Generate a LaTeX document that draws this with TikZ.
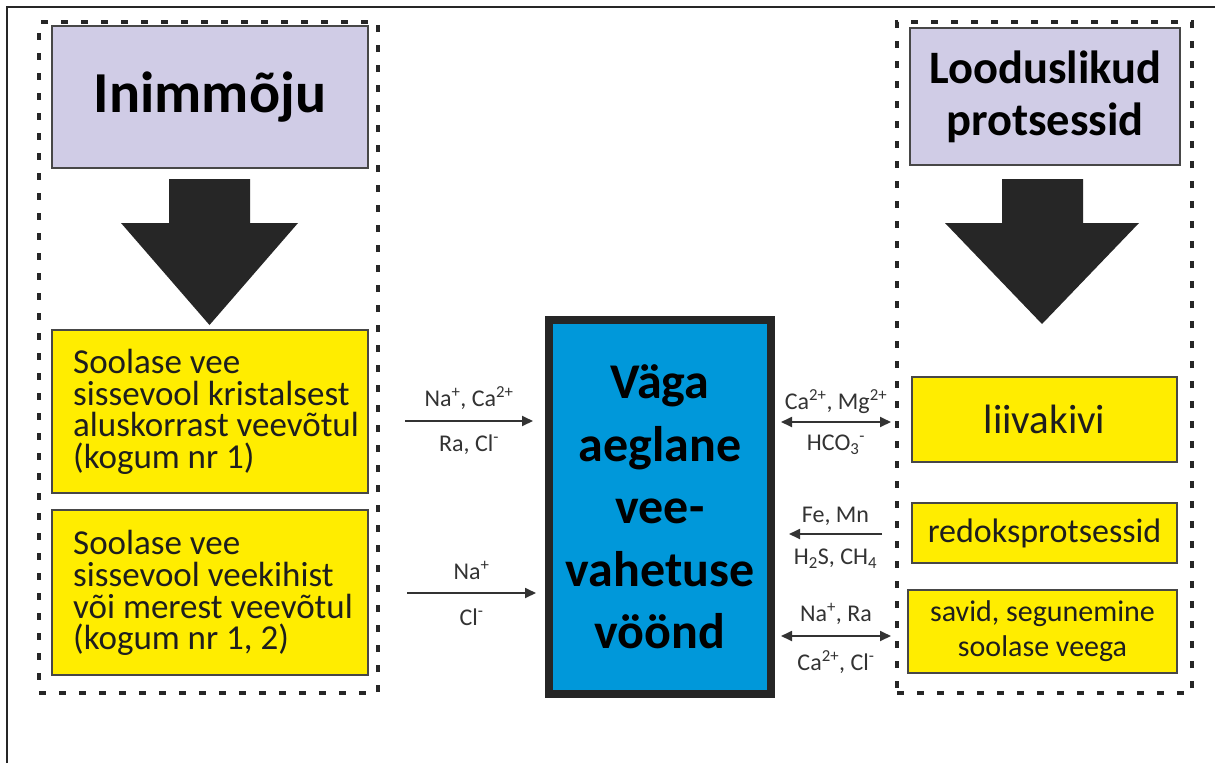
\documentclass[tikz,border=0pt]{standalone}
\usepackage{fontspec}
\setmainfont{Carlito}
\usetikzlibrary{arrows.meta}
\definecolor{lav}{HTML}{D0CCE6}
\definecolor{ylw}{HTML}{FFED00}
\definecolor{blu}{HTML}{0098DA}
\definecolor{dk}{HTML}{262626}
\definecolor{lbl}{HTML}{333333}
\definecolor{txt}{HTML}{1E1E1E}
\begin{document}
\begin{tikzpicture}[x=1pt,y=-1pt,
  dashbox/.style={draw=dk, line width=3.2pt, dash pattern=on 7pt off 13pt, inner sep=0pt},
  titlebox/.style={draw=dk!85, line width=1.6pt, fill=lav, inner sep=0pt, text=black,
    font=\bfseries, align=center},
  ybox/.style={draw=dk!85, line width=1.8pt, fill=ylw, inner sep=0pt},
  ytext/.style={text=txt, inner sep=0pt},
  bigarrow/.style={fill=dk},
  flow/.style={draw=lbl, line width=1.8pt, -{Triangle[length=11pt,width=10pt]}},
  flowboth/.style={draw=lbl, line width=1.8pt, {Triangle[length=11pt,width=10pt]}-{Triangle[length=11pt,width=10pt]}},
  lab/.style={text=lbl, inner sep=0pt, font=\fontsize{24}{28}\selectfont}
]
\useasboundingbox (0,0) rectangle (1215,763);
\fill[white] (0,0) rectangle (1215,763);
\draw[line width=1.3pt, dk] (7,763) -- (7,7) -- (1215,7);

% dashed groups
\node[dashbox, minimum width=339pt, minimum height=671pt] (lgroup) at (208.5,357.5) {};
\node[dashbox, minimum width=295pt, minimum height=671pt] (rgroup) at (1044.5,357.5) {};

% title boxes
\node[titlebox, minimum width=316pt, minimum height=142pt,
  font=\fontsize{58}{64}\selectfont\bfseries] (inim) at (210,97) {Inimmõju};
\node[titlebox, minimum width=270pt, minimum height=137pt,
  font=\fontsize{46.5}{52}\selectfont\bfseries] (lood) at (1045,96.5) {Looduslikud\\protsessid};

% big arrows
\fill[bigarrow] (169,179) -- (250,179) -- (250,223) -- (298,223) -- (209.5,325) -- (121,223) -- (169,223) -- cycle;
\fill[bigarrow] (1002,179) -- (1083,179) -- (1083,223) -- (1139,223) -- (1042,324) -- (945,223) -- (1002,223) -- cycle;

% left yellow boxes
\node[ybox, minimum width=316pt, minimum height=163pt] (y1) at (210,411.5) {};
\node[ytext, anchor=west, align=left, font=\fontsize{35}{31.7}\selectfont] (y1t) at (73,412)
  {Soolase vee\\sissevool kristalsest\\aluskorrast veevõtul\\(kogum nr 1)};
\node[ybox, minimum width=316pt, minimum height=165pt] (y2) at (210,592.5) {};
\node[ytext, anchor=west, align=left, font=\fontsize{35}{31.7}\selectfont] (y2t) at (73,593)
  {Soolase vee\\sissevool veekihist\\või merest veevõtul\\(kogum nr 1, 2)};

% right yellow boxes
\node[ybox, minimum width=265pt, minimum height=85pt] (liiv) at (1044.5,419.5) {};
\node[ytext, font=\fontsize{41}{44}\selectfont] (liivt) at (liiv.center) {liivakivi};
\node[ybox, minimum width=265pt, minimum height=60pt] (redo) at (1044.5,533) {};
\node[ytext, font=\fontsize{34}{38}\selectfont] (redot) at (redo.center) {redoksprotsessid};
\node[ybox, minimum width=269pt, minimum height=83pt] (savi) at (1042.5,631.5) {};
\node[ytext, align=center, font=\fontsize{30}{35}\selectfont] (savit) at (savi.center) {savid, segunemine\\soolase veega};

% central box
\node[draw=dk, line width=8pt, fill=blu, minimum width=222pt, minimum height=374pt,
  inner sep=0pt, align=center, font=\fontsize{50}{62.5}\selectfont\bfseries, text=black]
  (zone) at (660,507) {Väga\\aeglane\\vee-\\vahetuse\\vöönd};

% connector end points
\coordinate (a1s) at (405,421); \coordinate (a1e) at (533,421);
\coordinate (a2s) at (407,593); \coordinate (a2e) at (536,593);
\coordinate (b1s) at (781,422); \coordinate (b1e) at (891,422);
\coordinate (b2s) at (882,534); \coordinate (b2e) at (789,534);
\coordinate (b3s) at (781,636); \coordinate (b3e) at (891,636);

\draw[flow] (a1s) -- (a1e)
  node[lab, midway, yshift=23pt] {Na\textsuperscript{+}, Ca\textsuperscript{2+}}
  node[lab, midway, yshift=-24pt] {Ra, Cl\textsuperscript{-}};
\draw[flow] (a2s) -- (a2e)
  node[lab, midway, yshift=23pt] {Na\textsuperscript{+}}
  node[lab, midway, yshift=-24pt] {Cl\textsuperscript{-}};
\draw[flowboth] (b1s) -- (b1e)
  node[lab, midway, yshift=20pt] {Ca\textsuperscript{2+}, Mg\textsuperscript{2+}}
  node[lab, midway, yshift=-23pt] {HCO\textsubscript{3}\textsuperscript{-}};
\draw[flow] (b2s) -- (b2e)
  node[lab, midway, yshift=18pt] {Fe, Mn}
  node[lab, midway, yshift=-25pt] {H\textsubscript{2}S, CH\textsubscript{4}};
\draw[flowboth] (b3s) -- (b3e)
  node[lab, midway, yshift=22pt] {Na\textsuperscript{+}, Ra}
  node[lab, midway, yshift=-26pt] {Ca\textsuperscript{2+}, Cl\textsuperscript{-}};
\end{tikzpicture}
\end{document}
